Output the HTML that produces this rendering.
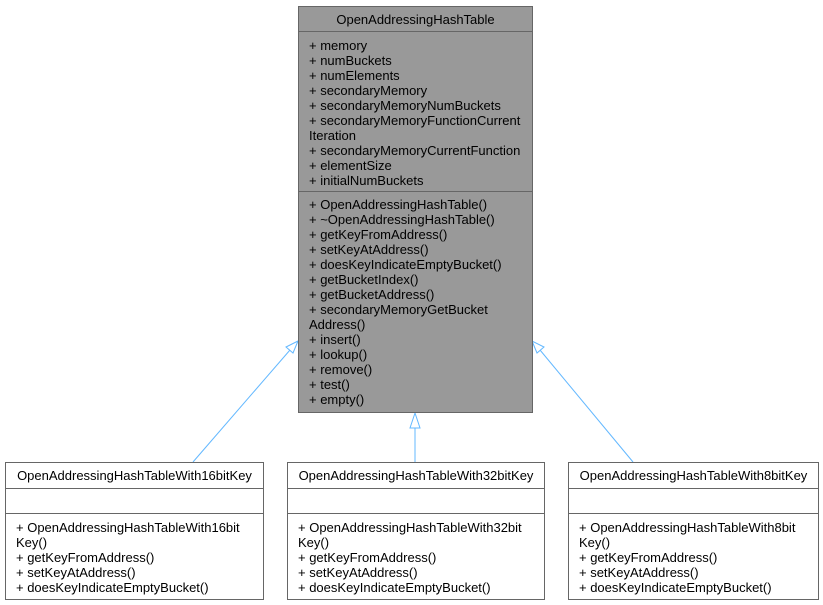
<!DOCTYPE html>
<html><head><meta charset="utf-8"><style>
body{margin:0;width:823px;height:605px;background:#fff;position:relative;overflow:hidden;font-family:"Liberation Sans",Arial,sans-serif;font-size:13px;color:#000}
.b{position:absolute;box-sizing:border-box;border:1px solid #666}
.t{position:absolute;line-height:15px;white-space:nowrap}
.h{position:absolute;height:1px;background:#666}
</style></head><body>
<svg width="823" height="605" style="position:absolute;left:0;top:0">
<g stroke="#63b8ff" stroke-width="1" fill="#fff">
<line x1="193" y1="462" x2="290" y2="350"/>
<polygon points="298,341 286,347 293,353"/>
<line x1="415" y1="462" x2="415" y2="428"/>
<polygon points="415,413 410,428 420,428"/>
<line x1="633" y1="462" x2="540" y2="350"/>
<polygon points="532,341 537,353 544,347"/>
</g>
</svg>
<div class="b" style="left:298px;top:6px;width:235px;height:407px;background:#999"></div>
<div class="h" style="left:298px;top:31px;width:235px"></div>
<div class="h" style="left:298px;top:191px;width:235px"></div>
<div class="t" style="left:298px;width:235px;text-align:center;top:12px">OpenAddressingHashTable</div>
<div class="t" style="left:309px;top:38px">+ memory<br>+ numBuckets<br>+ numElements<br>+ secondaryMemory<br>+ secondaryMemoryNumBuckets<br>+ secondaryMemoryFunctionCurrent<br>Iteration<br>+ secondaryMemoryCurrentFunction<br>+ elementSize<br>+ initialNumBuckets</div>
<div class="t" style="left:309px;top:197px">+ OpenAddressingHashTable()<br>+ ~OpenAddressingHashTable()<br>+ getKeyFromAddress()<br>+ setKeyAtAddress()<br>+ doesKeyIndicateEmptyBucket()<br>+ getBucketIndex()<br>+ getBucketAddress()<br>+ secondaryMemoryGetBucket<br>Address()<br>+ insert()<br>+ lookup()<br>+ remove()<br>+ test()<br>+ empty()</div>

<div class="b" style="left:5px;top:462px;width:259px;height:138px"></div>
<div class="h" style="left:5px;top:488px;width:259px"></div>
<div class="h" style="left:5px;top:513px;width:259px"></div>
<div class="t" style="left:5px;width:259px;text-align:center;top:468px">OpenAddressingHashTableWith16bitKey</div>
<div class="t" style="left:16px;top:520px">+ OpenAddressingHashTableWith16bit<br>Key()<br>+ getKeyFromAddress()<br>+ setKeyAtAddress()<br>+ doesKeyIndicateEmptyBucket()</div>

<div class="b" style="left:287px;top:462px;width:258px;height:138px"></div>
<div class="h" style="left:287px;top:488px;width:258px"></div>
<div class="h" style="left:287px;top:513px;width:258px"></div>
<div class="t" style="left:287px;width:258px;text-align:center;top:468px">OpenAddressingHashTableWith32bitKey</div>
<div class="t" style="left:298px;top:520px">+ OpenAddressingHashTableWith32bit<br>Key()<br>+ getKeyFromAddress()<br>+ setKeyAtAddress()<br>+ doesKeyIndicateEmptyBucket()</div>

<div class="b" style="left:568px;top:462px;width:251px;height:138px"></div>
<div class="h" style="left:568px;top:488px;width:251px"></div>
<div class="h" style="left:568px;top:513px;width:251px"></div>
<div class="t" style="left:568px;width:251px;text-align:center;top:468px">OpenAddressingHashTableWith8bitKey</div>
<div class="t" style="left:579px;top:520px">+ OpenAddressingHashTableWith8bit<br>Key()<br>+ getKeyFromAddress()<br>+ setKeyAtAddress()<br>+ doesKeyIndicateEmptyBucket()</div>
</body></html>
